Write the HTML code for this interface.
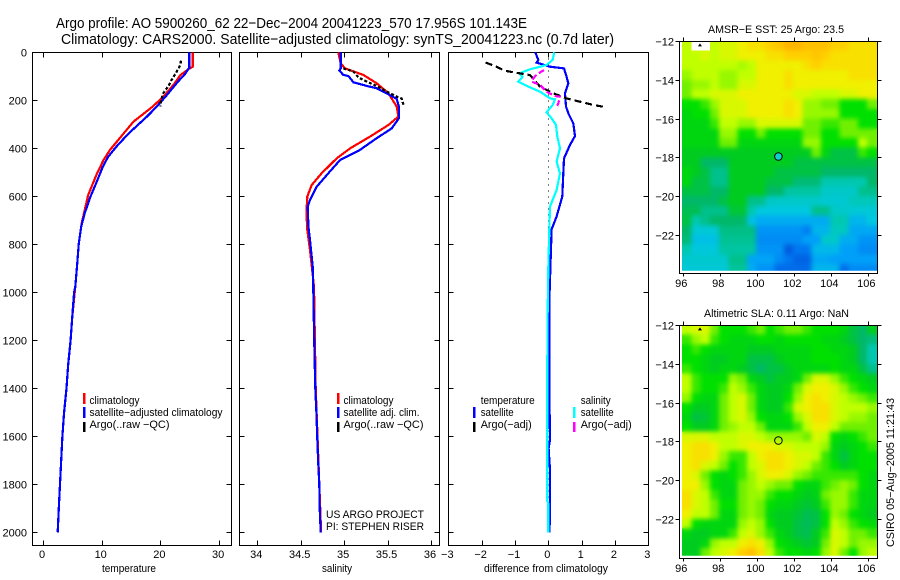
<!DOCTYPE html>
<html lang="en">
<head>
<meta charset="utf-8">
<title>Argo profile chart</title>
<style>
html,body{margin:0;padding:0;background:#fff;}
svg{display:block;font-family:"Liberation Sans",sans-serif;fill:#000;}
text{font-size:11px;}
</style>
</head>
<body>
<svg id="chart" width="900" height="580" viewBox="0 0 900 580" xmlns="http://www.w3.org/2000/svg">
  <defs>
    <filter id="map-smooth" x="-5%" y="-5%" width="110%" height="110%" color-interpolation-filters="sRGB">
      <feGaussianBlur in="SourceGraphic" stdDeviation="2.4" result="soft"/>
      <feMerge><feMergeNode in="SourceGraphic"/><feMergeNode in="soft"/></feMerge>
    </filter>
  </defs>
  <rect x="0" y="0" width="900" height="580" fill="#fff"/>
  <text x="56" y="28" style="font-size:15px" textLength="471" lengthAdjust="spacingAndGlyphs">Argo profile: AO 5900260_62 22−Dec−2004 20041223_570 17.956S 101.143E</text>
  <text x="61" y="44" style="font-size:15px" textLength="553" lengthAdjust="spacingAndGlyphs">Climatology: CARS2000. Satellite−adjusted climatology: synTS_20041223.nc (0.7d later)</text>
  <text x="129" y="572" text-anchor="middle" textLength="54" lengthAdjust="spacingAndGlyphs">temperature</text>
  <text x="337" y="572" text-anchor="middle" textLength="30" lengthAdjust="spacingAndGlyphs">salinity</text>
  <text x="546" y="572" text-anchor="middle" textLength="124" lengthAdjust="spacingAndGlyphs">difference from climatology</text>
  <text x="326" y="518" textLength="98" lengthAdjust="spacingAndGlyphs">US ARGO PROJECT</text>
  <text x="326" y="530" textLength="98" lengthAdjust="spacingAndGlyphs">PI: STEPHEN RISER</text>
  <text x="708" y="33" textLength="136" lengthAdjust="spacingAndGlyphs">AMSR−E SST: 25 Argo: 23.5</text>
  <text x="704" y="317" textLength="145" lengthAdjust="spacingAndGlyphs">Altimetric SLA: 0.11 Argo: NaN</text>
  <text transform="translate(894,547) rotate(-90)" textLength="149" lengthAdjust="spacingAndGlyphs">CSIRO 05−Aug−2005 11:21:43</text>
  <g id="layer"></g>
</svg>
<script>
// ---- profile data ----
const depthTicks = [0,200,400,600,800,1000,1200,1400,1600,1800,2000];
const tempTicks = [0,10,20,30];
const salTicks = [34,34.5,35,35.5,36];
const salTickLabels = ['34','34.5','35','35.5','36'];
const diffTicks = [-3,-2,-1,0,1,2,3];
const diffTickLabels = ['−3','−2','−1','0','1','2','3'];
const lonTicks = [96,98,100,102,104,106];
const latTicks = [-12,-14,-16,-18,-20,-22];

const tempClimDepth = [0,60,70,95,130,180,226,289,407,449,511,594,712,796,893,976,1100,1200,1300,1400,1500,1600,1700,1800,1900,2000];
const tempClimValue = [25.5,25.5,24.8,23.4,22.4,20.7,18.7,15.4,11.4,10.3,9.1,7.7,6.6,6.1,5.8,5.5,5.0,4.7,4.3,4.0,3.6,3.3,3.1,2.9,2.7,2.5];
const tempSatDepth = [0,65,75,90,122,178,226,268,338,393,435,476,546,601,671,726,796,893,976,1000,1100,1200,1300,1400,1500,1600,1700,1800,1900,2000];
const tempSatValue = [24.9,24.9,24.6,24.2,23,21.1,19.4,17.7,14.6,12.5,11.1,10.2,9.05,8.1,7.1,6.5,6.1,5.8,5.5,5.3,5,4.7,4.3,4,3.6,3.3,3.1,2.9,2.7,2.5];
const tempArgoDepth = [35,53,80,115,140,170,199,226];
const tempArgoValue = [23.5,23.4,22.8,21.9,21.4,20.5,20.1,20];

const salClimDepth = [0,46,67,94,129,171,226,268,303,351,400,442,504,553,601,671,740,824,976,1400,2000];
const salClimValue = [34.933,34.96,35.01,35.22,35.375,35.51,35.605,35.625,35.51,35.30,35.07,34.914,34.74,34.626,34.576,34.565,34.576,34.607,34.653,34.672,34.735];
const salSatDepth = [0,67,76,94,99,125,140,150,171,194,226,275,317,358,407,449,504,560,615,643,726,782,893,990,1200,1400,1500,1600,1700,1800,1900,2000];
const salSatValue = [34.96,34.96,34.945,34.99,35.05,35.106,35.26,35.375,35.49,35.605,35.63,35.63,35.547,35.375,35.18,34.952,34.818,34.684,34.607,34.58,34.588,34.607,34.638,34.645,34.655,34.668,34.68,34.69,34.70,34.714,34.718,34.73];
const salArgoDepth = [67,80,104,122,140,164,185,192,226];
const salArgoValue = [34.99,35.106,35.163,35.26,35.375,35.49,35.605,35.66,35.69];

const diffTempSatDepth = [0,32,43,60,67,102,129,171,226,254,296,349,386,442,504,601,684,738,1000,1450,1490,1615,1650,1740,1940,2000];
const diffTempSatValue = [-0.39,-0.30,-0.35,0.05,0.47,0.55,0.60,0.50,0.53,0.60,0.75,0.80,0.65,0.47,0.45,0.42,0.25,0.10,0.04,0.03,0.04,0.05,0.01,0.05,0.05,0.03];
const diffSalSatDepth = [0,32,53,71,88,102,122,143,164,192,196,220,250,275,303,351,400,456,504,574,643,738,900,1100,1300,1500,1870,1880,2000];
const diffSalSatValue = [0.18,0.13,-0.05,-0.55,-0.87,-0.77,-0.90,-0.60,-0.25,0.05,0.20,0.13,-0.05,0.10,0.23,0.27,0.35,0.25,0.35,0.25,0.05,0.03,0,-0.02,-0.03,-0.03,-0.03,0,0];
const diffTempArgoDepth = [43,57,77,88,95,143,171,192,206,219,227];
const diffTempArgoValue = [-1.88,-1.6,-1.3,-0.85,-0.55,-0.25,0.15,0.55,0.95,1.35,1.65];
const diffSalArgoDepth = [74,92,109,122,136,150,164,182,185,213,229];
const diffSalArgoValue = [-0.13,-0.35,-0.45,-0.5,-0.25,-0.15,-0.05,0.2,0.35,0.3,0.25];

// ---- map data: colour level per 0.5 degree cell, -1 = no data ----
const sstGrid = [
[9,-1,-1,9,9.5,9.5,10,10.5,10.5,11,11.3,11.8,11.8,11.5,11.5,11.5,11,11,10.5,10.5,10.5],
[9,9,9.5,9,9.5,9.5,10,10,10,10.5,10.5,11,11,11,11.3,11,10.5,10.5,10.5,10.5,10.5],
[9,9,9,9,9,9,8.7,9,10,10,10,10,10,10.5,11,10.5,10.5,10.5,10.5,10.5,10.5],
[8.5,9,9,9,8.5,8.5,9,9,10,10,10,10.5,10,10,10,10,10,10,10.5,10.5,10.5],
[8,8.5,8.5,9,8.5,8.5,9.5,9.5,10,10,10,10.5,10,10,10,10,10,10,10,10,10],
[8,9,9,9.5,9.5,9.5,10,10,10,10,10,10,9.5,9.5,9,9,9,9.5,9.5,10,10],
[7,7,7.5,8.5,9.5,9.5,9.5,10,10,10,10,10.5,10,8.5,8.5,8,8,7,7,7,8],
[6.5,7,7,8,9.5,9.5,9.5,10,10,10,10,10.5,10,8.5,8.5,8.5,8.5,7,7,7,7],
[6.5,6.5,6.5,7.5,9,9,8.5,8.5,9.5,9.5,9.5,9.5,9.5,8,8,7.5,7.5,8,8,7,7],
[6.5,6.5,6.5,6.5,8.5,8.5,7,7,8,7,7,7,7,8,8,7,7,8,8,8,8],
[6.5,6.5,6.5,6.5,8,8,6.5,6.5,6.5,6.5,6.5,6.5,6.5,8.5,8.5,7,7,7,7,9,8],
[6,6,6,6,6,6,6,6,6,6,6,6,6,6,8,6.5,5.5,5.5,5.5,7.5,7],
[6,6,5,5,5,6,6,6,6,6,6,6,5.5,5.5,5.5,5.5,5.5,5.5,5.5,5.5,5.5],
[6.5,6,5.5,4.5,4.5,6,6,6,6,6,5.5,5.5,5.5,5.5,5.5,5,5,5,5,5,5],
[6.5,5.5,5.5,4.5,4.5,6,6,6,6,5.5,5.5,5.5,4.8,4.8,4.8,4,4,4,4,4,5],
[5.5,5.5,5.5,5,5,6,6,6,6,5,5,4.2,4.2,4.2,4.2,3.5,3.5,3.5,3.5,4.5,4.5],
[5,5,5,5,5.5,6,6,4.5,4.5,3.5,3.5,3.5,3.5,3.5,3.5,3.3,3.3,3.3,3.8,3.8,3.8],
[5.3,5.3,4.5,4.5,4.5,5.7,5.7,4,3,3,3,3,3,3,4.5,4.5,3.5,3.5,3.2,3.2,3.2],
[5.5,4,4.5,5,5,5,5,2.8,2.3,2.3,2.3,2.3,2.3,2.3,2.3,2.3,4,4,2.5,2.5,3],
[5,3.2,3.2,3.2,4.6,4.6,4.6,4.6,1.7,1.7,1.7,1.7,1.7,1.2,2.5,2.5,3.7,3.7,2.2,2.2,2.2],
[4.8,2.8,2.8,2.8,4.4,4.4,4.4,4.4,1.5,1.5,1.5,1.5,1.5,2,2,3.5,3.5,2.3,2.3,1.7,1.7],
[4,3.1,3.1,3.1,4.2,4.2,4.2,4.2,1.7,1.7,1.7,0.3,1,1,2.6,2.6,2.6,2,2,1.5,1.5],
[3.4,3.4,3.4,3.4,3.4,4.5,4.5,2.1,2.1,2.1,1.5,1,0.5,0.5,2.2,2.2,2,2,2,2,2],
[3.2,3.2,3.2,3.2,3.2,4.3,4.3,2.3,1.7,1.7,0.7,0.7,0.7,0.7,2.5,2.5,2.5,0.8,1.5,1.5,1.5]
];
const slaGrid = [
[9,9.5,9.5,8,7,7,7,7.5,8,7,7.5,8,8,7.5,7,7,7,6.5,5.5,5,6],
[7.5,8.5,9,7.5,7,6.5,6.5,6.5,7,7,6.5,7,7,7,7,6.5,6.5,6,5.5,5,4.7],
[7,7.5,7,6.5,6.5,6.5,6.5,6,6,6,6.5,6.5,6.5,6.5,7,7,6.5,6.5,6,5,4],
[7,7,6.5,6,6,6.5,6.5,5.5,5.5,5.5,6,6.5,6.5,6.5,7,7,7,6.5,6,5,4],
[7.5,7,6.5,6,6.5,6.5,6,5.5,5,5.5,5.5,6,6.5,6.5,6.5,6.5,7,6.5,6.5,5.5,4.5],
[9,7.5,7,7,7,8.5,8,6.5,6,5.5,6,6,6.5,8,9.5,9.5,8.5,7.5,7,6.5,6],
[9,7.5,7,7,7.5,9,8.5,7.5,6.5,6,6,6.5,8,9.5,10,10,9.5,8.5,7.5,7,6.5],
[8.5,7,6.5,6.5,8,9,9.5,8,6.5,6,6,7,8.5,10,10.5,10,9.5,9,8.5,8,7.5],
[7,6,6,6.5,8,9,9.5,8,6.5,6,6,7.5,9.5,10,10.5,10.5,9.5,9,9,9,8.5],
[6.5,5.5,5.7,6.5,8,9,9.5,8.5,7,6.5,6.5,7,8.5,9.5,10.5,10.5,9.5,9,8.5,8.5,8],
[7,6,6,6.5,8,8.5,9,9,8,6.5,6.5,6.5,7.5,9,10,10,9,8,8,8,8],
[9.5,9.5,9.5,9,9,9,9.5,9.5,9,8.5,8.5,8.5,8.5,8,9.5,9,7,6.5,7,7.5,8],
[10,10.5,10.5,10,9,9,9.5,10,10,10,9.5,9.5,9,9,9,8.5,6.5,6,6.5,7,7.5],
[10,10.5,10.5,10,8.5,7.5,7.5,9,10,10.5,10.5,10,9.5,9.5,9,7.5,6.5,5.5,6.5,7,7],
[10,10.5,9.5,9,8,7,7.5,9,9.5,10.5,10.5,10,9.5,9,8,7.5,7,6,6.5,7,7],
[10,9.5,8,7,6.5,7,7.5,8.5,9.5,10,10,9.5,8.5,8,7.5,7.5,7.5,7.5,7.5,7,6.5],
[10,10,8.5,7,6.5,6.5,8,8.5,9,8.5,8,8,7,6.5,6.5,7.5,8,8.5,8,7,6.5],
[10.5,9.5,9,7.5,6.5,6.5,8,8.5,8.5,7.5,7,7,6.5,6,6.3,8,8.5,8.5,7.5,6.5,6.5],
[10.5,9.5,9,8,7,7,8,8.5,8,7,6.5,6.5,6,5.7,6,7.5,8.5,8.5,7.5,6.5,6.3],
[10,9,9,8,6.5,6.5,8,8.5,8,6.5,6,6,5.7,5.3,5.5,7,8.5,8,7,6.5,6],
[9,7,6.5,6.5,6.5,6.5,8.5,9,8.5,7,6,6,5.5,5.2,5.5,7,9,8.5,7.5,7,6.7],
[6.5,6,6,6.5,6.5,7.5,9,9.5,8.5,7.5,6.5,6,5.5,5.3,6,7.5,9.5,9,8,8,7.5],
[6,6,6.5,8.5,9,9,10,10.5,10,8.5,7,6.5,6,5.7,6,8,9.5,9,8,8.5,8.5],
[6,6,8,9,9.5,10,11,11.5,10.5,9,7.5,7,7,6.5,7,8.5,9.5,8,7,8.5,9]
];
const noDataUnderlay = 9.5;
const argoLon = 101.143;
const argoLat = -17.956;
const markerLon = 96.9;
const markerLat = -12.2;
const cmapStops = ['#0050d8','#0078f0','#00a0f8','#00c8e0','#00c8b0','#00b868','#00cc20','#00e000','#70f000','#c0ff00','#f0f000','#ffd000','#ffb000'];

// ---- scales ----
const SVGNS = 'http://www.w3.org/2000/svg';
const layer = document.getElementById('layer');
const depthY = d => 52.3 + 0.24 * d;
const tempX = t => 43 + 5.87 * t;
const salX = s => 257.3 + 86.85 * (s - 34);
const diffX = v => 548.3 + 33.33 * v;
const lonX = lon => 683.3 + 18.5 * (lon - 96);
const latY = (lat, top) => top + 19.4 * (-12 - lat);

function mk(tag, attrs, text) {
  const el = document.createElementNS(SVGNS, tag);
  for (const k in attrs) el.setAttribute(k, attrs[k]);
  if (text !== undefined) el.textContent = text;
  layer.appendChild(el);
  return el;
}
function hex(c){return [1,3,5].map(i=>parseInt(c.substr(i,2),16));}
function levelColor(v){
  const lo=Math.max(0,Math.min(cmapStops.length-1,Math.floor(v)));
  const hi=Math.min(cmapStops.length-1,lo+1);
  const f=v-lo, a=hex(cmapStops[lo]), b=hex(cmapStops[hi]);
  return 'rgb('+a.map((x,i)=>Math.round(x+(b[i]-x)*f)).join(',')+')';
}
function drawLine(name, depths, vals, xf, color, width, dash) {
  const pts = depths.map((d,i)=>xf(vals[i]).toFixed(1)+','+depthY(d).toFixed(1)).join(' ');
  const attrs = {points:pts, fill:'none', stroke:color, 'stroke-width':width, 'shape-rendering':'crispEdges'};
  if (dash) attrs['stroke-dasharray'] = dash;
  const el = mk('polyline', attrs);
  
  
}
function drawTick(x1,y1,x2,y2){
  const el = mk('line',{x1,y1,x2,y2,stroke:'#000','stroke-width':1,'shape-rendering':'crispEdges'});
  
  
}
function drawLabel(name,x,y,str,anchor){
  const el = mk('text',{x,y,'text-anchor':anchor||'middle'},str);
  
  
}
function drawPanel(name, left, right, xf, ticks, labels, showDepthLabels){
  const box = mk('rect',{x:left+.5,y:52.5,width:right-left,height:493,fill:'none',stroke:'#000','stroke-width':1,'shape-rendering':'crispEdges'});
  
  
  ticks.forEach((t,i)=>{
    const x=Math.round(xf(t))+.5;
    drawTick(x,52.5,x,57.5);
    drawTick(x,545.5,x,540.5);
    drawLabel('x-tick-label',xf(t)-1,558,labels[i]);
  });
  depthTicks.forEach(d=>{
    const y=Math.round(depthY(d))+.5;
    drawTick(left+.5,y,left+5.5,y);
    drawTick(right+.5,y,right-4.5,y);
    if(showDepthLabels) drawLabel('depth-tick-label',27,y+4,String(d),'end');
  });
}
function drawLegendBar(name,x,y,h,color){
  const el = mk('rect',{x,y,width:2.5,height:h,fill:color,'shape-rendering':'crispEdges'});
  
  
}
function drawLegendText(x,y,str,w){
  const el = mk('text',{x,y,textLength:w,lengthAdjust:'spacingAndGlyphs'},str);
  
  
}
function drawMap(name, grid, top, boxBottom, imgBottom, circleFill){
  const clip = 'clip-'+name;
  const cp = mk('clipPath',{id:clip});
  
  
  const cr = document.createElementNS(SVGNS,'rect');
  cr.setAttribute('x',682);cr.setAttribute('y',top);cr.setAttribute('width',195);cr.setAttribute('height',imgBottom-top);
  cp.appendChild(cr);
  const clipGroup = mk('g',{'clip-path':'url(#'+clip+')'});
  
  
  const smoothGroup = mk('g',{filter:'url(#map-smooth)'});
  
  
  clipGroup.appendChild(smoothGroup);
  const cellW = lonX(96.5)-lonX(96);
  const cellH = latY(-12.5,top)-latY(-12,top);
  grid.forEach((row,r)=>{
    row.forEach((v,c)=>{
      const x = lonX(95.93+0.5*c);
      const y = latY(-12-0.5*r,top);
      const cell = mk('rect',{x:x.toFixed(2),y:y.toFixed(2),width:(cellW+1.2).toFixed(2),height:(cellH+.4).toFixed(2),
        fill:levelColor(v<0?noDataUnderlay:v),'shape-rendering':'crispEdges'});
      
      
      smoothGroup.appendChild(cell);
    });
  });
  grid.forEach((row,r)=>{
    row.forEach((v,c)=>{
      if(v>=0) return;
      const hole = mk('rect',{x:lonX(95.93+0.5*c).toFixed(2),y:latY(-12-0.5*r,top).toFixed(2),width:(cellW+.2).toFixed(2),height:cellH.toFixed(2),fill:'#fff','shape-rendering':'crispEdges'});
      
      
      clipGroup.appendChild(hole);
    });
  });
  const box = mk('polyline',{points:`679.5,${top+.5} 877.5,${top+.5} 877.5,${boxBottom+.5} 679.5,${boxBottom+.5} 679.5,${top+.5}`,fill:'none',stroke:'#000','stroke-width':1,'shape-rendering':'crispEdges'});
  
  
  lonTicks.forEach(l=>{
    const x=Math.round(lonX(l))+.5;
    drawTick(x,top+.5,x,top-3.5);
    drawTick(x,boxBottom+.5,x,boxBottom+3.5);
    drawLabel('longitude-tick-label',lonX(l)-2,boxBottom+14,String(l));
  });
  latTicks.forEach(l=>{
    const y=Math.round(latY(l,top))+.5;
    drawTick(679.5,y,675.5,y);
    drawTick(877.5,y,881.5,y);
    drawLabel('latitude-tick-label',674,y+4,'−'+Math.abs(l),'end');
  });
  const tri = mk('path',{d:`M${lonX(markerLon)-2} ${latY(markerLat,top)+1.5}h4l-2,-3z`,fill:'#000'});
  
  
  const circ = mk('circle',{cx:lonX(argoLon).toFixed(1),cy:latY(argoLat,top).toFixed(1),r:3.8,fill:circleFill,stroke:'#000','stroke-width':1});
  
  
}

// ---- panels ----
drawPanel('temperature-panel',32,231,tempX,tempTicks,tempTicks.map(String),true);
drawPanel('salinity-panel',239,439,salX,salTicks,salTickLabels,false);
drawPanel('difference-panel',448,648,diffX,diffTicks,diffTickLabels,false);

drawLine('temperature-climatology-line',tempClimDepth,tempClimValue,tempX,'#ff0000',2.2);
drawLine('temperature-satellite-line',tempSatDepth,tempSatValue,tempX,'#0000ff',2.2);
drawLine('temperature-argo-line',tempArgoDepth,tempArgoValue,tempX,'#000',2.2,'3 2');

drawLine('salinity-climatology-line',salClimDepth,salClimValue,salX,'#ff0000',2.2);
drawLine('salinity-satellite-line',salSatDepth,salSatValue,salX,'#0000ff',2.2);
drawLine('salinity-argo-line',salArgoDepth,salArgoValue,salX,'#000',2.2,'3 2');

const zeroLine = mk('line',{x1:diffX(0),y1:depthY(0),x2:diffX(0),y2:depthY(2000),stroke:'#000','stroke-width':1,'stroke-dasharray':'1 5','shape-rendering':'crispEdges'});


drawLine('difference-temperature-satellite-line',diffTempSatDepth,diffTempSatValue,diffX,'#0000ff',2.2);
drawLine('difference-salinity-satellite-line',diffSalSatDepth,diffSalSatValue,diffX,'#00ffff',2.2);
drawLine('difference-temperature-argo-line',diffTempArgoDepth,diffTempArgoValue,diffX,'#000',2.2,'7 4');
drawLine('difference-salinity-argo-line',diffSalArgoDepth,diffSalArgoValue,diffX,'#ff00ff',2.2,'6 3');

// ---- legends ----
drawLegendBar('legend-swatch-climatology',83,393,11,'#ff0000');
drawLegendBar('legend-swatch-satellite',83,407,11,'#0000ff');
drawLegendBar('legend-swatch-argo',83,422,10,'#000');
drawLegendText(89.5,404,'climatology',50);
drawLegendText(89.5,416,'satellite−adjusted climatology',133);
drawLegendText(89.5,428,'Argo(..raw −QC)',80);

drawLegendBar('legend-swatch-climatology',337,393,11,'#ff0000');
drawLegendBar('legend-swatch-satellite',337,407,11,'#0000ff');
drawLegendBar('legend-swatch-argo',337,422,10,'#000');
drawLegendText(343.5,404,'climatology',50);
drawLegendText(343.5,416,'satellite adj. clim.',76);
drawLegendText(343.5,428,'Argo(..raw −QC)',80);

drawLegendBar('legend-swatch-temperature-satellite',473,407,11,'#0000ff');
drawLegendBar('legend-swatch-temperature-argo',473,422,10,'#000');
drawLegendText(480.7,404,'temperature',54);
drawLegendText(480.7,416,'satellite',33);
drawLegendText(480.7,428,'Argo(−adj)',51);

drawLegendBar('legend-swatch-salinity-satellite',573,407,11,'#00ffff');
drawLegendBar('legend-swatch-salinity-argo',573,422,10,'#ff00ff');
drawLegendText(580.7,404,'salinity',30);
drawLegendText(580.7,416,'satellite',33);
drawLegendText(580.7,428,'Argo(−adj)',51);

// ---- maps ----
drawMap('sst-map',sstGrid,41,273,270.7,'#10d0d0');
drawMap('sla-map',slaGrid,325,558,555.7,'none');
</script>
</body>
</html>
